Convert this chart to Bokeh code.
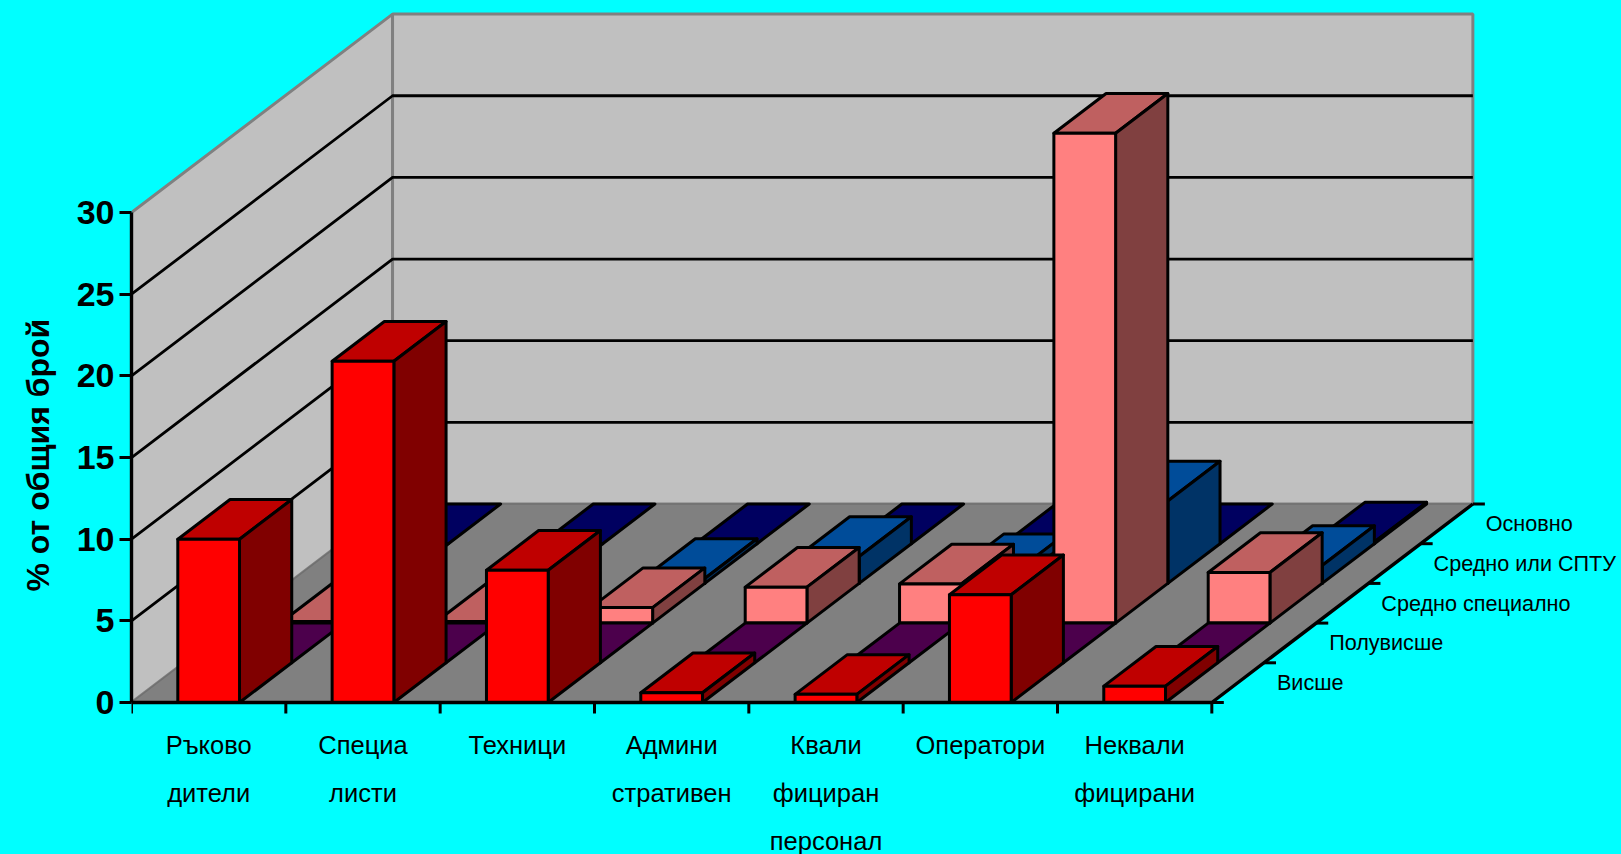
from bokeh.core.properties import value
from bokeh.models import ColumnDataSource, FixedTicker, LinearAxis, Title
from bokeh.plotting import figure
from bokeh.embed import file_html
from bokeh.resources import INLINE

cat_line1 = ["Ръково", "Специа", "Техници", "Админи", "Квали", "Оператори", "Неквали"]
cat_line2 = ["дители", "листи", "", "стративен", "фициран", "", "фицирани"]
cat_line3 = ["", "", "", "", "персонал", "", ""]
series_names = ["Висше", "Полувисше", "Средно специално", "Средно или СПТУ", "Основно"]
visshe = [10.0, 20.9, 8.1, 0.6, 0.5, 6.6, 1.0]
poluvisshe = [0, 0, 0, 0, 0, 0, 0]
sredno_spec = [0.1, 0.1, 0.95, 2.2, 2.4, 30.0, 3.1]
sredno_sptu = [0, 0, 0.3, 1.65, 0.6, 5.05, 1.1]
osnovno = [0, 0, 0, 0, 0, 0, 0.1]
y_ticks = [0, 5, 10, 15, 20, 25, 30]
y_title = "% от общия брой"

front = ["#FF0000", "#660066", "#FF8080", "#0066CC", "#000080"]
top = ["#BF0000", "#4C004C", "#BF6060", "#004C99", "#000060"]
side = ["#800000", "#330033", "#804040", "#003366", "#000040"]
CYAN = "#00FFFF"
W, H = 1621, 854
LEFT, BOTTOM = 131.3, 702.0
CAT_PX, VAL_PX = 154.3, 16.33
DX, DY = 52.2 / CAT_PX, 39.7 / VAL_PX   # oblique depth vector per series, in data units
N = len(visshe)
D = len(series_names)
LW = 3

p = figure(width=W, height=H, output_backend="svg", toolbar_location=None,
           x_range=(0, (W - LEFT) / CAT_PX), y_range=(-(H - BOTTOM) / VAL_PX, BOTTOM / VAL_PX),
           min_border_left=int(LEFT), min_border_right=0, min_border_top=0, min_border_bottom=0,
           x_axis_type=None, y_axis_type=None,
           background_fill_color=CYAN, border_fill_color=CYAN, outline_line_color=None)
p.grid.visible = False

bx, by = D * DX, D * DY
p.patches([[0, bx, bx, 0], [bx, N + bx, N + bx, bx]],
          [[0, by, 30 + by, 30], [by, by, 30 + by, 30 + by]],
          fill_color="#C0C0C0", line_color="#808080", line_width=LW)
grid_v = [v for v in y_ticks if 0 < v < 30]
p.multi_line([[0, bx, N + bx] for v in grid_v],
             [[v, v + by, v + by] for v in grid_v],
             line_color="black", line_width=2.8)
p.patch([0, N, N + bx, bx], [0, 0, by, by], fill_color="#808080", line_color="#707070", line_width=1.5)

xs, ys, cols = [], [], []
series = [visshe, poluvisshe, sredno_spec, sredno_sptu, osnovno]
for d in range(D - 1, -1, -1):
    for c in range(N):
        v = series[d][c]
        x0, x1 = c + 0.3 + d * DX, c + 0.7 + d * DX
        y0 = d * DY
        xs.append([x0, x1, x1 + DX, x0 + DX]); ys.append([y0 + v, y0 + v, y0 + v + DY, y0 + v + DY]); cols.append(top[d])
        if v > 0:
            xs.append([x1, x1 + DX, x1 + DX, x1]); ys.append([y0, y0 + DY, y0 + v + DY, y0 + v]); cols.append(side[d])
            xs.append([x0, x1, x1, x0]); ys.append([y0, y0, y0 + v, y0 + v]); cols.append(front[d])
p.patches(xs, ys, fill_color=cols, line_color="black", line_width=LW, line_join="round")

# bottom and depth axes
p.line([0, N, N + bx], [0, 0, by], line_color="black", line_width=LW + 0.4)
tick_x = 12 / CAT_PX
tick_y = 11 / VAL_PX
p.segment(list(range(N + 1)), [0] * (N + 1), list(range(N + 1)), [-tick_y] * (N + 1),
          line_color="black", line_width=LW)
p.segment([N + d * DX for d in range(D + 1)], [d * DY for d in range(D + 1)],
          [N + d * DX + tick_x for d in range(D + 1)], [d * DY for d in range(D + 1)],
          line_color="black", line_width=LW)

yax = LinearAxis(ticker=FixedTicker(ticks=y_ticks), bounds=(0, 30),
                 axis_line_color="black", axis_line_width=LW + 0.4,
                 major_tick_line_color="black", major_tick_line_width=LW, major_tick_out=12, major_tick_in=0,
                 minor_tick_line_color=None, major_label_standoff=5,
                 major_label_text_font="Liberation Sans", major_label_text_font_style="bold",
                 major_label_text_font_size="34px", major_label_text_color="black")
p.add_layout(yax, "left")
p.add_layout(Title(text=y_title, align="left", offset=H - 591, standoff=35,
                   text_font="Liberation Sans", text_font_style="bold",
                   text_font_size="32px", text_color="black"), "left")

lx, ly, lt = [], [], []
for i, line in enumerate([cat_line1, cat_line2, cat_line3]):
    for c, t in enumerate(line):
        if t:
            lx.append(c + 0.5); ly.append(-(42 + 48 * i) / VAL_PX); lt.append(t)
p.text(x="x", y="y", text="t", source=ColumnDataSource(dict(x=lx, y=ly, t=lt)),
       text_font=value("Liberation Sans"), text_font_size="25.5px", text_color="black",
       text_align="center", text_baseline="middle")
p.text(x="x", y="y", text="t", x_offset=39, source=ColumnDataSource(dict(
    x=[N + (d + 0.5) * DX for d in range(D)], y=[(d + 0.5) * DY for d in range(D)], t=series_names)),
    text_font=value("Liberation Sans"), text_font_size="21.6px", text_color="black",
    text_align="left", text_baseline="middle")

html = file_html(p, INLINE).replace("<body>", '<body style="margin:0;background:#00FFFF;overflow:hidden">')
open("out.html", "w").write(html)
